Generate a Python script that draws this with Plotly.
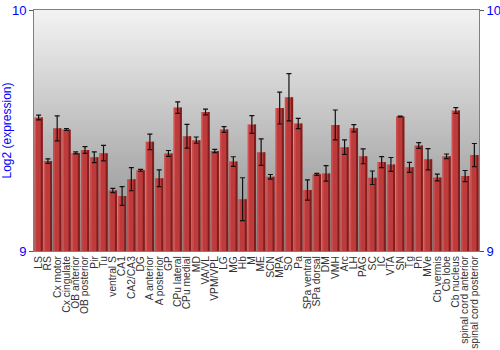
import plotly.graph_objects as go

regions = ["LS", "RS", "Cx motor", "Cx cingulate", "OB anterior", "OB posterior", "Pir", "Tu",
           "ventral S", "CA1", "CA2/CA3", "DG", "A anterior", "A posterior", "GP", "CPu lateral",
           "CPu medial", "MD", "VA/VL", "VPM/VPL", "LG", "MG", "Hb", "M", "ME", "SCN", "MPA", "SO",
           "Pa", "SPa ventral", "SPa dorsal", "DM", "VMH", "Arc", "LH", "PAG", "SC", "IC", "VTA",
           "SN", "Tg", "Pn", "MVe", "Cb vermis", "Cb lobe", "Cb nucleus", "spinal cord anterior",
           "spinal cord posterior"]

expression = [9.554, 9.373, 9.509, 9.504, 9.407, 9.419, 9.389, 9.406,
              9.251, 9.228, 9.298, 9.335, 9.453, 9.302, 9.405, 9.595,
              9.476, 9.460, 9.577, 9.415, 9.504, 9.371, 9.215, 9.525, 9.410, 9.308, 9.593, 9.638,
              9.529, 9.253, 9.318, 9.322, 9.523, 9.431, 9.509, 9.393, 9.304, 9.369, 9.359,
              9.558, 9.347, 9.438, 9.381, 9.305, 9.393, 9.583, 9.311,
              9.398]

errors = [0.0095, 0.0095, 0.052, 0.004, 0.004, 0.014, 0.022, 0.032,
          0.009, 0.039, 0.048, 0.004, 0.032, 0.035, 0.012, 0.024,
          0.049, 0.013, 0.012, 0.007, 0.012, 0.020, 0.089, 0.037, 0.055, 0.0095, 0.066, 0.098,
          0.021, 0.042, 0.004, 0.032, 0.062, 0.030, 0.015, 0.031, 0.028, 0.023, 0.029,
          0.002, 0.021, 0.012, 0.044, 0.014, 0.0095, 0.012, 0.023,
          0.048]

y_range = [9, 10]
y_ticks = [9, 10]

fig = go.Figure()

# main bars
fig.add_trace(go.Bar(
    x=regions, y=expression,
    width=0.9,
    marker=dict(color="#bd3b3b", line=dict(width=0)),
    error_y=dict(type="data", array=errors, color="#111111", thickness=1.2, width=2.5),
    showlegend=False, hoverinfo="x+y",
))
# darker right side shading
fig.add_trace(go.Bar(
    x=regions, y=expression, width=0.22, offset=0.23,
    marker=dict(color="rgba(110,20,20,0.75)", line=dict(width=0)),
    showlegend=False, hoverinfo="skip",
))
# lighter left highlight
fig.add_trace(go.Bar(
    x=regions, y=expression, width=0.14, offset=-0.42,
    marker=dict(color="rgba(230,110,110,0.45)", line=dict(width=0)),
    showlegend=False, hoverinfo="skip",
))
# invisible trace to show right axis
fig.add_trace(go.Scatter(
    x=[regions[0]], y=[expression[0]], yaxis="y2", mode="markers",
    marker=dict(opacity=0), showlegend=False, hoverinfo="skip",
))

# gradient background bands
n = 60
top_c = (243, 243, 243)
bot_c = (140, 140, 140)
for i in range(n):
    t = i / (n - 1)
    c = tuple(int(round(top_c[k] + (bot_c[k] - top_c[k]) * t)) for k in range(3))
    y1 = min(1.0, 1 - i / n + 0.6 / n)
    y0 = 1 - (i + 1) / n
    fig.add_shape(type="rect", xref="paper", yref="paper",
                  x0=0, x1=1, y0=y0, y1=y1,
                  fillcolor=f"rgb{c}", line=dict(width=0), layer="below")

axis_font = dict(family="Liberation Sans, Arial, sans-serif", size=13, color="#0000ff")

fig.update_layout(
    width=500, height=350,
    margin=dict(l=34, r=21, t=10, b=99),
    paper_bgcolor="white",
    plot_bgcolor="rgba(0,0,0,0)",
    barmode="overlay",
    bargap=0.1,
    xaxis=dict(
        type="category", tickangle=-90, tickmode="array", tickvals=regions, ticktext=regions,
        tickfont=dict(family="Liberation Sans, Arial, sans-serif", size=10.3, color="#333333"),
        showgrid=False, ticks="", showline=True, linecolor="#808080", linewidth=1, mirror=True,
        range=[-0.5, len(regions) - 0.5], automargin=False,
    ),
    yaxis=dict(
        range=y_range, tickvals=y_ticks, ticktext=[str(v) for v in y_ticks],
        tickfont=axis_font, showgrid=False, zeroline=False,
        ticks="outside", ticklen=4, tickcolor="#555555",
        showline=True, linecolor="#808080", linewidth=1, automargin=False,
        title=dict(text="Log2 (expression)", font=dict(family="Liberation Sans, Arial, sans-serif", size=12, color="#0000ff"), standoff=6),
    ),
    yaxis2=dict(
        range=y_range, tickvals=y_ticks, ticktext=[str(v) for v in y_ticks],
        overlaying="y", side="right",
        tickfont=axis_font, showgrid=False, zeroline=False,
        ticks="outside", ticklen=4, tickcolor="#555555",
        showline=True, linecolor="#808080", linewidth=1, automargin=False,
    ),
)

fig.write_html("out.html")
